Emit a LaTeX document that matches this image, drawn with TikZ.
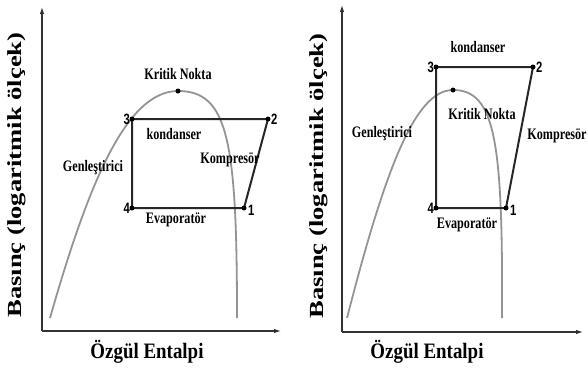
\documentclass[tikz,border=0pt]{standalone}
\usepackage{fontspec}
\setmainfont{Liberation Serif}
\newfontfamily\numfont{Liberation Sans}
\usetikzlibrary{arrows.meta}
\tikzset{
  axis/.style={draw=black!80, line width=1.1pt, -{Latex[length=7pt,width=4.5pt]}},
  sat/.style={draw=black!42, line width=1.8pt},
  cyc/.style={draw=black!85, line width=2pt, line join=round},
  lbl/.style={font=\fontsize{16}{16}\selectfont\bfseries, inner sep=0pt},
  num/.style={font=\fontsize{15}{15}\selectfont\bfseries\numfont, inner sep=0pt},
  axlbl/.style={font=\fontsize{22}{22}\selectfont\bfseries, inner sep=0pt},
  ylbl/.style={font=\fontsize{20}{20}\selectfont\bfseries, inner sep=0pt, rotate=90}
}
\newcommand{\nx}[1]{\scalebox{0.76}[1]{#1}}
\newcommand{\ny}[1]{\scalebox{0.75}[1]{#1}}
\begin{document}
\begin{tikzpicture}[x=1pt,y=-1pt]
\useasboundingbox (0,0) rectangle (588,368);
% ---------- left panel ----------
\coordinate (LO) at (42,331);
\coordinate (LY) at (42,7);
\coordinate (LX) at (281,331);
\draw[axis] (LO) -- (LY);
\draw[axis] (LO) -- (LX);
\coordinate (LS) at (50,318);
\coordinate (LK) at (178,91);
\coordinate (LE) at (237,318);
\draw[sat] (LS) .. controls (88,185) and (126,91) .. (LK) .. controls (228,91) and (237,140) .. (LE);
\coordinate (L1) at (244,208);
\coordinate (L2) at (268,119);
\coordinate (L3) at (132,119);
\coordinate (L4) at (132,208);
\draw[cyc] (L3) -- (L2) -- (L1) -- (L4) -- cycle;
\foreach \p in {L1,L2,L3,L4,LK} \fill[black] (\p) circle (2.5pt);
\node[num,anchor=east] (nL3) at ([xshift=-2pt]L3) {\ny{3}};
\node[num,anchor=west] (nL2) at ([xshift=3pt]L2) {\ny{2}};
\node[num,anchor=east] (nL4) at ([xshift=-2pt]L4) {\ny{4}};
\node[num,anchor=west] (nL1) at ([xshift=4pt,yshift=-2pt]L1) {\ny{1}};
\node[lbl] (tLK) at (178,74) {\nx{Kritik Nokta}};
\node[lbl] (tLc) at (174,134) {\nx{kondanser}};
\node[lbl] (tLk) at (230,160) {\nx{Kompresör}};
\node[lbl] (tLg) at (93,168) {\nx{Genleştirici}};
\node[lbl] (tLe) at (176,220) {\nx{Evaporatör}};
\node[axlbl] (tLx) at (147,352) {\scalebox{0.86}[1]{Özgül Entalpi}};
\node[ylbl] (tLy) at (17,175) {\scalebox{1.33}[1]{Basınç (logaritmik ölçek)}};
% ---------- right panel ----------
\coordinate (RO) at (342,332);
\coordinate (RY) at (342,5);
\coordinate (RX) at (583,332);
\draw[axis] (RO) -- (RY);
\draw[axis] (RO) -- (RX);
\coordinate (RS) at (347,318);
\coordinate (RK) at (453,90);
\coordinate (RE) at (502,318);
\draw[sat] (RS) .. controls (385,170) and (415,90) .. (RK) .. controls (495,90) and (503,140) .. (RE);
\coordinate (R1) at (506,208);
\coordinate (R2) at (533,67);
\coordinate (R3) at (436,67);
\coordinate (R4) at (436,208);
\draw[cyc] (R3) -- (R2) -- (R1) -- (R4) -- cycle;
\foreach \p in {R1,R2,R3,R4,RK} \fill[black] (\p) circle (2.5pt);
\node[num,anchor=east] (nR3) at ([xshift=-2pt]R3) {\ny{3}};
\node[num,anchor=west] (nR2) at ([xshift=3pt]R2) {\ny{2}};
\node[num,anchor=east] (nR4) at ([xshift=-2pt]R4) {\ny{4}};
\node[num,anchor=west] (nR1) at ([xshift=4pt,yshift=-2pt]R1) {\ny{1}};
\node[lbl] (tRc) at (478,47) {\nx{kondanser}};
\node[lbl] (tRK) at (482,114) {\nx{Kritik Nokta}};
\node[lbl] (tRg) at (382,134) {\nx{Genleştirici}};
\node[lbl] (tRk) at (557,136) {\nx{Kompresör}};
\node[lbl] (tRe) at (467,225) {\nx{Evaporatör}};
\node[axlbl] (tRx) at (427,352) {\scalebox{0.86}[1]{Özgül Entalpi}};
\node[ylbl] (tRy) at (319,176) {\scalebox{1.33}[1]{Basınç (logaritmik ölçek)}};
\end{tikzpicture}
\end{document}
